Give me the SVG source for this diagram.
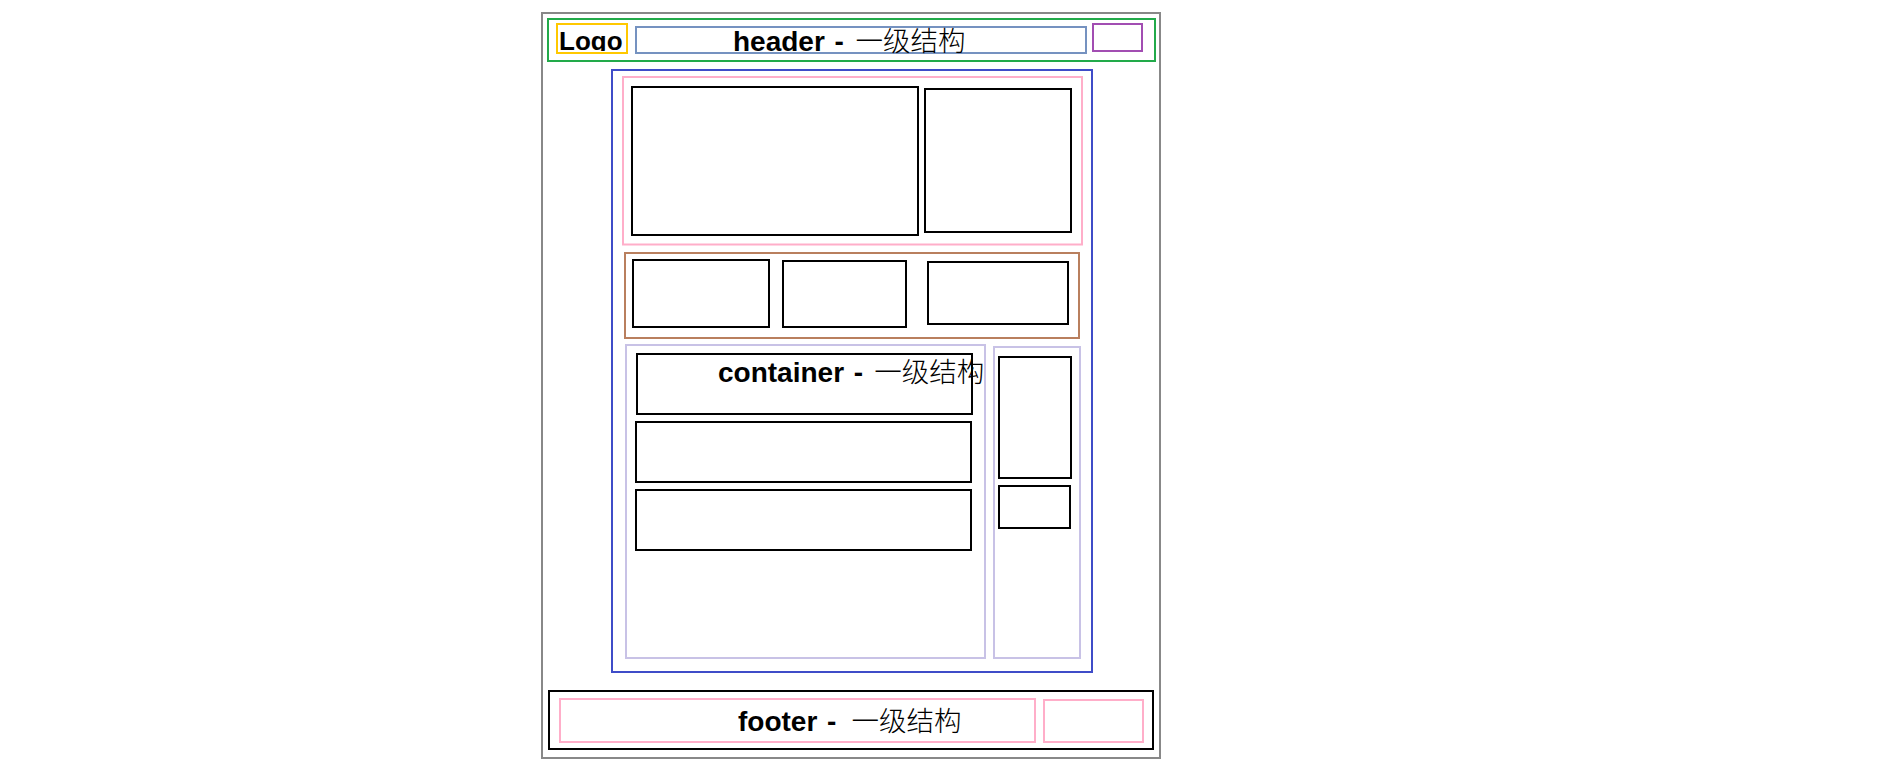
<svg xmlns="http://www.w3.org/2000/svg" width="1879" height="767" viewBox="0 0 1879 767">
<style>
rect{fill:none;stroke-width:2}
.gray{stroke:#888888}
.green{stroke:#22aa4a}
.yellow{stroke:#ffc800}
.steel{stroke:#7592c0}
.purple{stroke:#a24db2}
.blue{stroke:#3f4cc8}
.pink{stroke:#ffaec9}
.brown{stroke:#b97f5e}
.lav{stroke:#c8c2e6}
.blk{stroke:#000000}
.lbl{font-family:"Liberation Sans",Arial,sans-serif;font-weight:bold;font-size:28px;fill:#000;word-spacing:2px}
.logo{font-size:26px}
.cjk{font-family:"Noto Sans CJK SC","Noto Sans",sans-serif;font-weight:300;font-size:27.5px}
</style>
<defs>
<clipPath id="logoClip"><rect x="557" y="24" width="70" height="27"/></clipPath>
</defs>
<rect id="page" x="542" y="13" width="618" height="745" style="fill:#fff" class="gray"/>
<g id="header">
<rect x="548" y="19" width="607" height="42" class="green"/>
<g id="logo">
<rect x="557" y="24" width="70" height="29" class="yellow"/>
<text x="559" y="49.5" class="lbl logo" clip-path="url(#logoClip)">Logo</text>
</g>
<g id="header-title">
<rect x="636" y="27" width="450" height="26" class="steel"/>
<text x="733" y="50.5" class="lbl">header - <tspan x="855.5" class="cjk">一级结构</tspan></text>
</g>
<g id="header-right"><rect x="1093" y="24" width="49" height="27" class="purple"/></g>
</g>
<g id="container">
<rect x="612" y="70" width="480" height="602" class="blue"/>
<g id="banner">
<rect x="623" y="77" width="459" height="167.5" class="pink"/>
<rect x="632" y="87" width="286" height="148" class="blk"/>
<rect x="925" y="89" width="146" height="143" class="blk"/>
</g>
<g id="row">
<rect x="625" y="253" width="454" height="85" class="brown"/>
<rect x="633" y="260" width="136" height="67" class="blk"/>
<rect x="783" y="261" width="123" height="66" class="blk"/>
<rect x="928" y="262" width="140" height="62" class="blk"/>
</g>
<g id="main">
<rect x="626" y="345" width="359" height="313" class="lav"/>
<rect x="637" y="354" width="335" height="60" class="blk"/>
<rect x="636" y="422" width="335" height="60" class="blk"/>
<rect x="636" y="490" width="335" height="60" class="blk"/>
</g>
<g id="side">
<rect x="994" y="347" width="86" height="311" class="lav"/>
<rect x="999" y="357" width="72" height="121" class="blk"/>
<rect x="999" y="486" width="71" height="42" class="blk"/>
</g>
<text x="718" y="382" class="lbl">container - <tspan x="874.3" class="cjk">一级结构</tspan></text>
</g>
<g id="footer">
<rect x="549" y="691" width="604" height="58" class="blk"/>
<rect x="560" y="699" width="475" height="43" class="pink"/>
<rect x="1044" y="700" width="99" height="42" class="pink"/>
<text x="738" y="730.5" class="lbl">footer - <tspan x="851.5" class="cjk">一级结构</tspan></text>
</g>
<g id="connectors"/>
</svg>
